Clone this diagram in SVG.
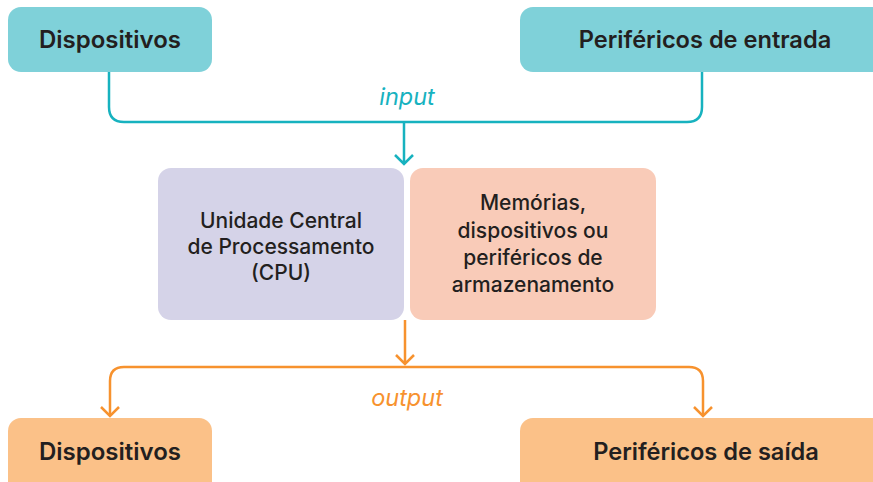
<svg xmlns="http://www.w3.org/2000/svg" width="873" height="482" viewBox="0 0 873 482">
<style>
.t{font-family:Inter,"Liberation Sans",sans-serif;fill:#231f20;text-anchor:middle}
.h{font-size:24px;font-weight:600}
.hr{font-size:23.6px;font-weight:600}
.m{font-size:21px;font-weight:500}
.lab{font-family:Inter,"Liberation Sans",sans-serif;font-size:23.5px;font-style:italic;text-anchor:middle}
.tl{fill:none;stroke:#17b2bf;stroke-width:2.5}
.ol{fill:none;stroke:#f7922e;stroke-width:2.5}
</style>
<rect width="873" height="482" fill="#fff"/>
<g id="connectors">
<path class="tl" d="M109 72 V107 Q109 122 124 122 H687 Q702 122 702 107 V72"/>
<path class="tl" d="M404 122 V164 M395 155 L404 164 L413 155"/>
<path class="ol" d="M405 320 V364 M396 355 L405 364 L414 355"/>
<path class="ol" d="M110 416 V381 Q110 367 124 367 H689 Q703 367 703 381 V416"/>
<path class="ol" d="M101 407 L110 416 L119 407 M694 407 L703 416 L712 407"/>
<text class="lab" x="407" y="105" fill="#17b2bf">input</text>
<text class="lab" x="407" y="406" fill="#f7922e">output</text>
</g>
<g id="dispositivos-in">
<rect x="8" y="7" width="204" height="65" rx="13" fill="#7fd1d9"/>
<text class="t h" x="110" y="48">Dispositivos</text>
</g>
<g id="perifericos-entrada">
<rect x="520" y="7" width="370" height="65" rx="13" fill="#7fd1d9"/>
<text class="t hr" x="705" y="48">Periféricos de entrada</text>
</g>
<g id="cpu">
<rect x="158" y="168" width="246" height="152" rx="13" fill="#d5d3e8"/>
<text class="t m" x="281" y="228">Unidade Central</text>
<text class="t m" x="281" y="254">de Processamento</text>
<text class="t m" x="281" y="280">(CPU)</text>
</g>
<g id="memorias">
<rect x="410" y="168" width="246" height="152" rx="13" fill="#f9cbb8"/>
<text class="t m" x="533" y="210">Memórias,</text>
<text class="t m" x="533" y="238">dispositivos ou</text>
<text class="t m" x="533" y="265">periféricos de</text>
<text class="t m" x="533" y="292">armazenamento</text>
</g>
<g id="dispositivos-out">
<rect x="8" y="418" width="204" height="80" rx="13" fill="#fbc188"/>
<text class="t h" x="110" y="460">Dispositivos</text>
</g>
<g id="perifericos-saida">
<rect x="520" y="418" width="370" height="80" rx="13" fill="#fbc188"/>
<text class="t hr" x="706" y="460">Periféricos de saída</text>
</g>
</svg>
